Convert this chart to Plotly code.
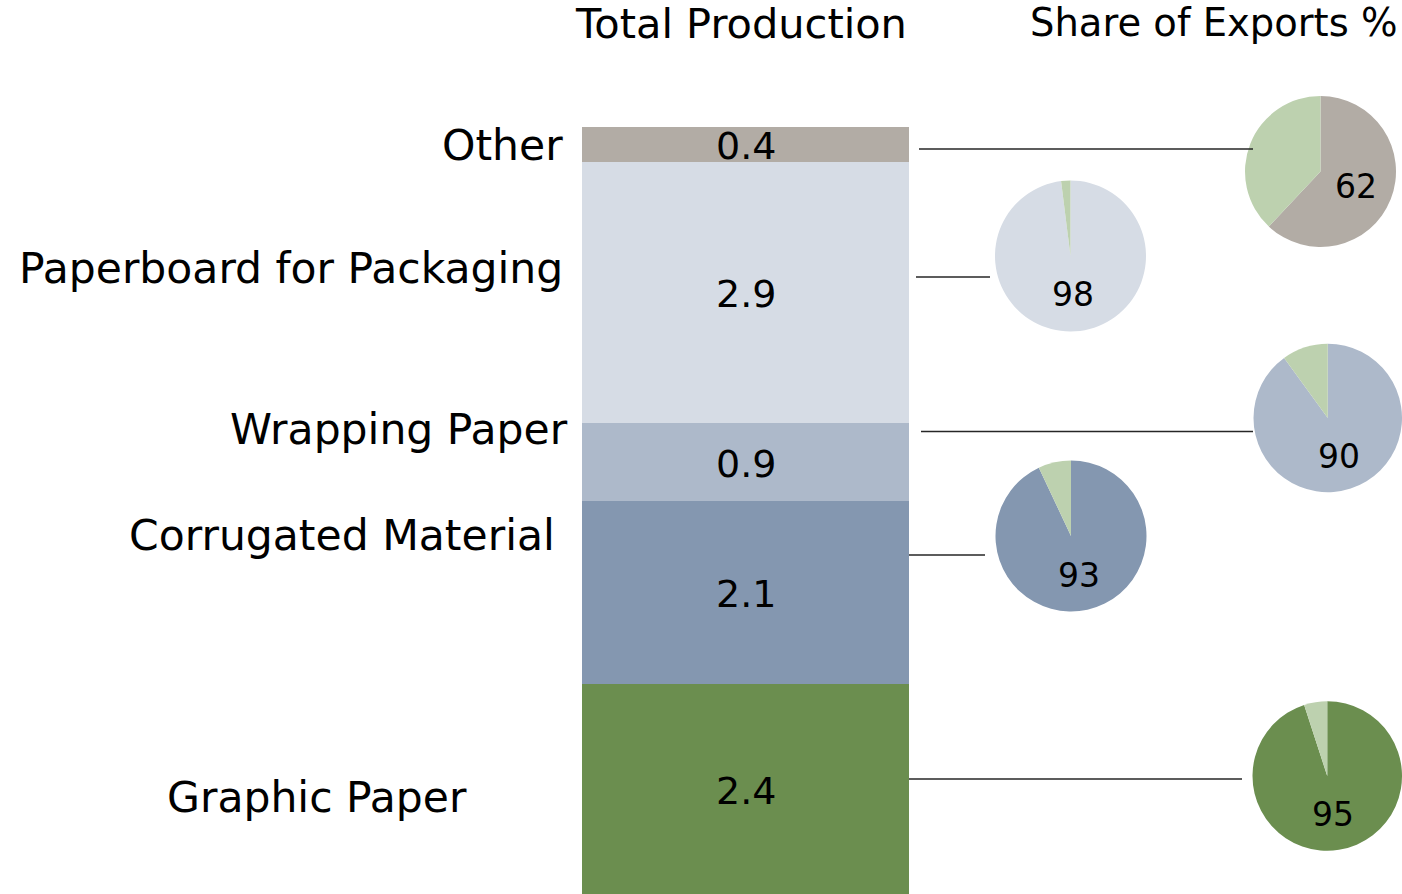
import plotly.graph_objects as go

# ---- data ----
categories = ["Graphic Paper", "Corrugated Material", "Wrapping Paper",
              "Paperboard for Packaging", "Other"]
production = [2.37, 2.06, 0.88, 2.94, 0.39]
export_share = [95, 93, 90, 98, 62]
title_left = "Total Production"
title_right = "Share of Exports %"

# ---- styling / layout constants ----
W, H = 1402, 894
FONT = "DejaVu Sans"
colors = ["#6B8E4F", "#8497B0", "#ADB9CA", "#D6DCE5", "#B2ACA5"]
rest_color = "#BDD1AF"
bar_left, bar_right, bar_top = 582, 909, 127

pie_centers = [(1328, 776), (1071, 536), (1329, 418), (1070.5, 256), (1320.5, 171.5)]
pie_r = 75.5
pie_label_offsets = [(5, 38), (8, 39), (10, 38), (2, 38), (35, 15)]

label_pos = [(317, 797, "center"), (557, 535, "right"), (570, 430, "right"),
             (565, 268, "right"), (565, 145, "right")]

connectors = [(909, 1242, 779), (909, 985, 555), (921, 1253, 431.5),
              (916, 990, 277), (919, 1253, 149)]


def px(x):
    return x / W


def py(y):
    return 1 - y / H


fig = go.Figure()

# stacked bar
for cat, val, col in zip(categories, production, colors):
    fig.add_trace(go.Bar(x=[0], y=[val], name=cat, marker=dict(color=col, line=dict(width=0)),
                         width=1, showlegend=False, hoverinfo="skip"))

# pies
for i, (share, col) in enumerate(zip(export_share, colors)):
    cx, cy = pie_centers[i]
    x0 = max(0, px(cx - pie_r))
    x1 = min(1, px(cx + pie_r))
    fig.add_trace(go.Pie(values=[share, 100 - share], marker=dict(colors=[col, rest_color], line=dict(width=0)),
                         sort=False, direction="clockwise", rotation=0, textinfo="none",
                         hoverinfo="skip", showlegend=False,
                         domain=dict(x=[x0, x1], y=[py(cy + pie_r), py(cy - pie_r)])))

annotations = []
# bar value labels
cum = 0
for val in production:
    annotations.append(dict(x=0, y=cum + val / 2, xref="x", yref="y", text=f"{val:.1f}",
                            showarrow=False, font=dict(family=FONT, size=38, color="#000000"),
                            xanchor="center", yanchor="middle", yshift=-2))
    cum += val
total = cum

# pie value labels
for i, share in enumerate(export_share):
    cx, cy = pie_centers[i]
    dx, dy = pie_label_offsets[i]
    annotations.append(dict(x=px(cx + dx), y=py(cy + dy), xref="paper", yref="paper", text=str(share),
                            showarrow=False, font=dict(family=FONT, size=33, color="#000000"),
                            xanchor="center", yanchor="middle"))

# category labels
for cat, (lx, ly, anchor) in zip(categories, label_pos):
    annotations.append(dict(x=px(lx), y=py(ly), xref="paper", yref="paper", text=cat,
                            showarrow=False, font=dict(family=FONT, size=42.5, color="#000000"),
                            xanchor=anchor, yanchor="middle"))

# titles
annotations.append(dict(x=px(741), y=py(24), xref="paper", yref="paper", text=title_left,
                        showarrow=False, font=dict(family=FONT, size=41.5, color="#000000"),
                        xanchor="center", yanchor="middle"))
annotations.append(dict(x=px(1400), y=py(23), xref="paper", yref="paper", text=title_right,
                        showarrow=False, font=dict(family=FONT, size=38.5, color="#000000"),
                        xanchor="right", yanchor="middle"))

shapes = []
for x0, x1, y in connectors:
    shapes.append(dict(type="line", xref="paper", yref="paper", x0=px(x0), x1=px(x1),
                       y0=py(y), y1=py(y), line=dict(color="#262626", width=1.3)))

fig.update_layout(
    width=W, height=H, margin=dict(l=0, r=0, t=0, b=0),
    paper_bgcolor="white", plot_bgcolor="rgba(0,0,0,0)",
    barmode="stack", bargap=0,
    xaxis=dict(domain=[px(bar_left), px(bar_right)], range=[-0.5, 0.5], visible=False, fixedrange=True),
    yaxis=dict(domain=[0, py(bar_top)], range=[0, total], visible=False, fixedrange=True),
    annotations=annotations, shapes=shapes,
)

fig.write_html("out.html", config={"displayModeBar": False},
               post_script="document.body.style.margin='0';")
